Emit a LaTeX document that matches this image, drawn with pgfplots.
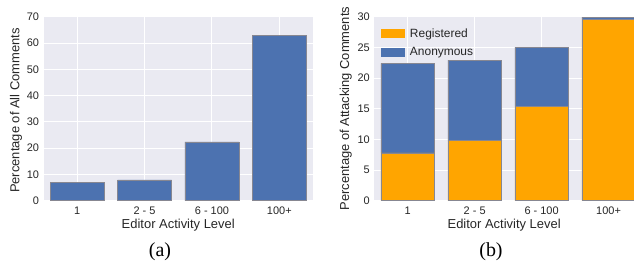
\documentclass[border=0pt]{standalone}
\usepackage{pgfplots}
\pgfplotsset{compat=1.18}
\usepackage{fontspec}
\setmainfont{Liberation Sans}
\newfontfamily\capfont{Liberation Serif}
\definecolor{sbg}{HTML}{EAEAF2}
\definecolor{sblue}{HTML}{4C72B0}
\definecolor{sorange}{HTML}{FFA500}
\definecolor{stext}{HTML}{262626}
\definecolor{sedge}{RGB}{135,135,145}
\begin{document}
\begin{tikzpicture}
\useasboundingbox (0,0) rectangle (634bp,268bp);
\pgfplotsset{
  sns/.style={
    scale only axis,
    anchor=south west,
    axis background/.style={fill=sbg},
    axis line style={draw=none},
    major tick length=0pt,
    grid=major,
    grid style={white, line width=0.9bp},
    xmin=-0.5,
    ymin=0,
    xtick={0,1,2,3},
    xticklabels={1,2 - 5,6 - 100,100+},
    tick label style={font=\fontsize{11}{13}\selectfont, text=stext},
    label style={font=\fontsize{13}{15}\selectfont, text=stext},
    /pgf/number format/assume math mode=true,
    xticklabel style={yshift=-3bp},
    yticklabel style={xshift=-1bp},
    xlabel style={at={(axis description cs:0.5,-0.132)}, anchor=center},
    bar width=0.8,
    every axis plot/.append style={draw=sedge, line width=0.6bp},
  }
}
% ---------- (a)
\begin{axis}[sns,
  at={(43.5bp,67.3bp)},
  width=269.5bp, height=184bp,
  xmax=3.5, ymax=70,
  ytick={0,10,20,30,40,50,60,70},
  ybar,
  xlabel={Editor Activity Level},
  ylabel={Percentage of All Comments},
  ylabel style={at={(axis description cs:-0.102,0.49)}, anchor=center},
]
\addplot[fill=sblue] coordinates {(0,7.0) (1,7.9) (2,22.4) (3,62.9)};
\end{axis}
% ---------- (b)
\begin{axis}[sns,
  at={(374.3bp,67.3bp)},
  width=259.7bp, height=184bp,
  xmax=3.38, ymax=30,
  ytick={0,5,10,15,20,25,30},
  ybar stacked,
  xlabel={Editor Activity Level},
  ylabel={Percentage of Attacking Comments},
  ylabel style={at={(axis description cs:-0.110,0.5)}, anchor=center},
  legend style={at={(axis description cs:0.025,0.943)}, anchor=north west,
    draw=none, fill=none, font=\fontsize{12}{14}\selectfont, text=stext,
    row sep=7bp, inner sep=0pt},
  legend cell align=left,
  legend image code/.code={\fill[#1, draw=none] (0bp,-4.3bp) rectangle (24bp,4.3bp);},
  legend style={nodes={inner xsep=5bp, inner ysep=1bp}},
]
\addplot[fill=sorange] coordinates {(0,7.8) (1,9.8) (2,15.4) (3,29.6)};
\addplot[fill=sblue] coordinates {(0,14.6) (1,13.1) (2,9.6) (3,0.35)};
\legend{Registered,Anonymous}
\end{axis}
\node[font=\capfont\fontsize{20}{24}\selectfont, text=black] at (160bp,16bp) {(a)};
\node[font=\capfont\fontsize{20}{24}\selectfont, text=black] at (491bp,16bp) {(b)};
\end{tikzpicture}
\end{document}
